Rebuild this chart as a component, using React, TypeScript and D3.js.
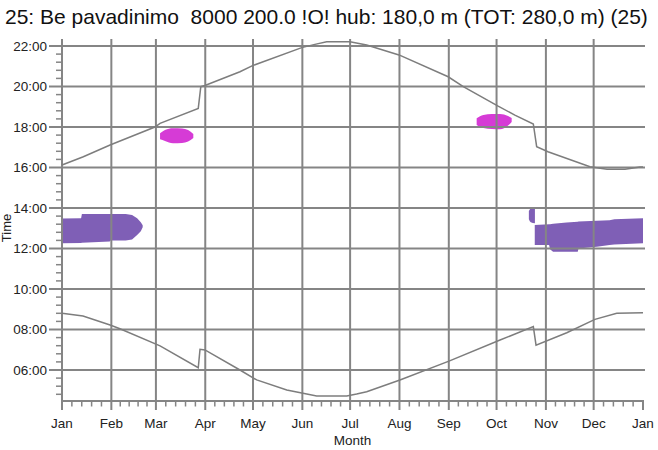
import React from "react";
import * as d3 from "d3";

const TITLE = "25: Be pavadinimo  8000 200.0 !O! hub: 180,0 m (TOT: 280,0 m) (25)";
const monthStarts = [0, 31, 59, 90, 120, 151, 181, 212, 243, 273, 304, 334, 365];
const monthLabels = ["Jan", "Feb", "Mar", "Apr", "May", "Jun", "Jul", "Aug", "Sep", "Oct", "Nov", "Dec", "Jan"];
const hourTicks = [6, 8, 10, 12, 14, 16, 18, 20, 22];

// sunset (day of year, hours)
const sunsetDays = [0, 13.4, 30.2, 58.4, 61.6, 85.6, 87.2, 89.8, 111.8, 119.7, 150.6, 158.9, 166.3, 180.9, 191.4, 211.7, 242.6, 252.1, 273.7, 284.5, 296.1, 298.2, 305.3, 331.7, 342.4, 353.7, 363.1, 365];
const sunsetHours = [16.12, 16.53, 17.11, 18.0, 18.18, 18.92, 19.99, 20.05, 20.73, 21.03, 21.92, 22.08, 22.21, 22.21, 22.05, 21.56, 20.48, 19.99, 19.04, 18.59, 18.15, 17.03, 16.78, 16.04, 15.91, 15.91, 16.02, 16.02];

// sunrise
const sunriseDays = [0, 13.2, 30.2, 36.4, 61.6, 85.6, 86.7, 89.8, 111.8, 122.3, 141.2, 151.4, 160, 178.9, 185.1, 191.4, 212.3, 243.1, 275.2, 296.1, 297.8, 317.1, 334.8, 348.5, 365];
const sunriseHours = [8.8, 8.67, 8.22, 8.04, 7.19, 6.11, 7.02, 6.99, 6.0, 5.51, 5.01, 4.85, 4.72, 4.72, 4.81, 4.93, 5.51, 6.44, 7.48, 8.14, 7.23, 7.84, 8.5, 8.8, 8.83];

// shadow regions (purple)
const blobADays = [0, 12, 12.5, 30, 30.5, 40, 44, 47.2, 49.5, 50.7];
const blobALo = [12.26, 12.27, 12.28, 12.34, 12.39, 12.4, 12.45, 12.67, 12.85, 13.05];
const blobAHi = [13.48, 13.5, 13.7, 13.7, 13.7, 13.7, 13.65, 13.49, 13.3, 13.15];

const blobBDays = [297, 306, 306.6, 308.5, 317, 324, 324.5, 336, 344, 347, 365];
const blobBLo = [12.17, 12.17, 11.96, 11.84, 11.84, 11.84, 12.0, 12.09, 12.17, 12.2, 12.26];
const blobBHi = [13.16, 13.2, 13.2, 13.22, 13.29, 13.32, 13.33, 13.37, 13.4, 13.45, 13.49];

const blobCDays = [293.3, 294.5, 297.1];
const blobCLo = [13.45, 13.3, 13.25];
const blobCHi = [13.85, 13.98, 14.0];

// magenta regions
const blobDDays = [61.6, 64.7, 69.7, 75.4, 79.2, 82.5];
const blobDLo = [17.39, 17.31, 17.2, 17.21, 17.28, 17.46];
const blobDHi = [17.69, 17.85, 17.94, 17.93, 17.85, 17.65];

const blobEDays = [260.5, 264.7, 270.1, 275.2, 280.2, 282.5];
const blobELo = [18.1, 17.95, 17.9, 17.89, 18.07, 18.25];
const blobEHi = [18.43, 18.59, 18.64, 18.64, 18.54, 18.44];

const PURPLE = "#7f5fb6";
const MAGENTA = "#d63bd6";
const GRID = "#858585";
const FONT = "'Liberation Sans', Arial, sans-serif";

export default function App() {
  const x = d3.scaleLinear().domain([0, 365]).range([62, 643]);
  const y = d3.scaleLinear().domain([6, 22]).range([370, 46]);
  const top = 39;
  const bottom = 401;

  const line = d3
    .line<[number, number]>()
    .x((d) => x(d[0]))
    .y((d) => y(d[1]));

  const areaLin = d3
    .area<[number, number, number]>()
    .x((d) => x(d[0]))
    .y0((d) => y(d[1]))
    .y1((d) => y(d[2]));
  const areaSmooth = d3
    .area<[number, number, number]>()
    .x((d) => x(d[0]))
    .y0((d) => y(d[1]))
    .y1((d) => y(d[2]))
    .curve(d3.curveMonotoneX);

  const zip2 = (a: number[], b: number[]) => a.map((v, i) => [v, b[i]] as [number, number]);
  const zip3 = (a: number[], b: number[], c: number[]) =>
    a.map((v, i) => [v, b[i], c[i]] as [number, number, number]);

  // minor ticks
  const xMinor: number[] = [];
  for (let m = 0; m < 12; m++) {
    const s = monthStarts[m];
    const e = monthStarts[m + 1];
    for (let k = 1; k < 5; k++) xMinor.push(s + ((e - s) * k) / 5);
  }
  const yMinor: number[] = [];
  for (let h = 4.4; h < 22; h += 0.4) {
    const r = Math.round(h * 10) / 10;
    if (Math.abs(r % 2) > 0.01 && y(r) <= bottom && y(r) >= top) yMinor.push(r);
  }

  return (
    <svg width={658} height={450} style={{ display: "block", position: "absolute", left: 0, top: 0, background: "#fff" }}>
      <rect x={0} y={0} width={658} height={450} fill="#fff" />
      <text x={5} y={24} fontFamily={FONT} fontSize={21} fill="#111" style={{ whiteSpace: "pre" }}>
        {TITLE}
      </text>

      {/* shaded regions */}
      <path d={areaLin(zip3(blobADays, blobALo, blobAHi)) || ""} fill={PURPLE} />
      <path d={areaLin(zip3(blobBDays, blobBLo, blobBHi)) || ""} fill={PURPLE} />
      <path d={areaSmooth(zip3(blobCDays, blobCLo, blobCHi)) || ""} fill={PURPLE} />
      <path d={areaSmooth(zip3(blobDDays, blobDLo, blobDHi)) || ""} fill={MAGENTA} />
      <path d={areaSmooth(zip3(blobEDays, blobELo, blobEHi)) || ""} fill={MAGENTA} />

      {/* grid */}
      {hourTicks.map((h) => (
        <line key={"h" + h} x1={62} x2={645} y1={y(h)} y2={y(h)} stroke={GRID} strokeWidth={2} />
      ))}
      {monthStarts.slice(0, 12).map((d, i) => (
        <line key={"v" + i} x1={x(d)} x2={x(d)} y1={top} y2={bottom} stroke={GRID} strokeWidth={2} />
      ))}

      {/* axes */}
      <line x1={62} x2={62} y1={top} y2={410} stroke={GRID} strokeWidth={2} />
      <line x1={61} x2={644} y1={bottom} y2={bottom} stroke={GRID} strokeWidth={2} />
      {monthStarts.map((d, i) => (
        <line key={"xt" + i} x1={x(d)} x2={x(d)} y1={bottom} y2={410} stroke={GRID} strokeWidth={2} />
      ))}
      {xMinor.map((d, i) => (
        <line key={"xm" + i} x1={x(d)} x2={x(d)} y1={bottom} y2={406.5} stroke={GRID} strokeWidth={1.5} />
      ))}
      {hourTicks.map((h) => (
        <line key={"yt" + h} x1={49} x2={62} y1={y(h)} y2={y(h)} stroke={GRID} strokeWidth={2} />
      ))}
      {yMinor.map((h, i) => (
        <line key={"ym" + i} x1={56} x2={62} y1={y(h)} y2={y(h)} stroke={GRID} strokeWidth={1.5} />
      ))}

      {/* sunrise / sunset */}
      <path d={line(zip2(sunsetDays, sunsetHours)) || ""} fill="none" stroke="#7d7d7d" strokeWidth={1.5} />
      <path d={line(zip2(sunriseDays, sunriseHours)) || ""} fill="none" stroke="#7d7d7d" strokeWidth={1.5} />

      {/* labels */}
      {hourTicks.map((h) => (
        <text key={"yl" + h} x={47} y={y(h) + 4.8} textAnchor="end" fontFamily={FONT} fontSize={13.5} fill="#222">
          {(h < 10 ? "0" : "") + h + ":00"}
        </text>
      ))}
      {monthStarts.map((d, i) => (
        <text key={"xl" + i} x={x(d)} y={428} textAnchor="middle" fontFamily={FONT} fontSize={13.5} fill="#222">
          {monthLabels[i]}
        </text>
      ))}
      <text x={352.5} y={445} textAnchor="middle" fontFamily={FONT} fontSize={13.5} fill="#222">
        Month
      </text>
      <text transform="translate(11,228) rotate(-90)" textAnchor="middle" fontFamily={FONT} fontSize={13} fill="#222">
        Time
      </text>
    </svg>
  );
}
